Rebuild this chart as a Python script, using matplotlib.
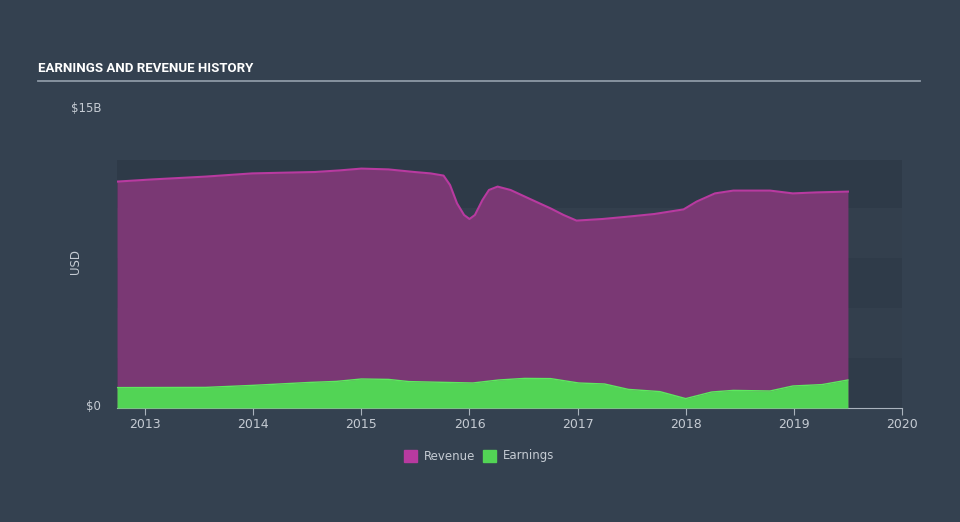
import matplotlib.pyplot as plt
from matplotlib.patches import Rectangle

# revenue history (USD billions)
rev_t = [2012.74, 2013.07, 2013.56, 2013.99, 2014.57, 2014.8, 2015.0, 2015.25, 2015.49,
         2015.64, 2015.76, 2015.82, 2015.885, 2015.95, 2016.0, 2016.05, 2016.12, 2016.18,
         2016.26, 2016.38, 2016.56, 2016.75, 2016.87, 2016.99, 2017.23, 2017.47, 2017.71,
         2017.98, 2018.1, 2018.27, 2018.44, 2018.78, 2018.99, 2019.21, 2019.5]
rev_v = [11.32, 11.43, 11.57, 11.73, 11.8, 11.88, 11.97, 11.93, 11.8,
         11.73, 11.62, 11.15, 10.23, 9.65, 9.45, 9.65, 10.4, 10.9,
         11.07, 10.9, 10.45, 9.98, 9.65, 9.37, 9.45, 9.57, 9.7,
         9.93, 10.32, 10.73, 10.87, 10.87, 10.73, 10.78, 10.82]

# earnings history (USD billions)
earn_t = [2012.74, 2013.56, 2013.99, 2014.53, 2014.77, 2015.0, 2015.25, 2015.44, 2016.03,
          2016.27, 2016.51, 2016.75, 2017.01, 2017.25, 2017.47, 2017.76, 2018.0, 2018.24,
          2018.44, 2018.78, 2018.99, 2019.26, 2019.5]
earn_v = [1.02, 1.03, 1.13, 1.28, 1.33, 1.45, 1.43, 1.32, 1.25,
          1.4, 1.48, 1.47, 1.25, 1.2, 0.93, 0.82, 0.47, 0.8,
          0.88, 0.85, 1.1, 1.17, 1.4]

years = list(range(2013, 2021))
series_names = ["Revenue", "Earnings"]

bg = "#344150"
rev_fill = "#7a3874"
rev_line = "#b83aa0"
earn_col = "#52d455"
txt = "#c5cbd3"

fig = plt.figure(figsize=(9.6, 5.22), dpi=100, facecolor=bg)
ax = fig.add_axes([117 / 960, 1 - 408 / 522, 785 / 960, 300 / 522])
ax.set_facecolor(bg)
ax.set_xlim(2012.74, 2020)
ax.set_ylim(0, 15)

# background bands
shades = ["#2f3b49", "#333f4d", "#2f3b49", "#333f4d", "#2e3a48"]
edges = [0, 2.5, 5, 7.5, 10, 12.4]
for i in range(5):
    ax.axhspan(edges[i], edges[i + 1], color=shades[i], lw=0, zorder=0)

ax.fill_between(rev_t, 0, rev_v, color=rev_fill, lw=0, zorder=2)
ax.plot(rev_t, rev_v, color=rev_line, lw=1.5, zorder=3)
ax.fill_between(earn_t, 0, earn_v, color=earn_col, lw=0, zorder=4)
ax.plot(earn_t, earn_v, color="#5ee85f", lw=1, zorder=5)

for s in ["top", "right", "left"]:
    ax.spines[s].set_visible(False)
ax.spines["bottom"].set_color("#aab3bd")
ax.set_xticks(years)
ax.set_xticklabels([str(y) for y in years])
ax.tick_params(axis="x", colors="#aab3bd", labelcolor=txt, labelsize=9, length=5, pad=2)
ax.set_yticks([])

fig.text(101 / 960, 1 - 108 / 522, "$15B", color=txt, fontsize=8.5, ha="right", va="center")
fig.text(101 / 960, 1 - 406 / 522, "$0", color=txt, fontsize=8.5, ha="right", va="center")
fig.text(76 / 960, 1 - 262 / 522, "USD", color=txt, fontsize=8.5, rotation=90,
         ha="center", va="center")

# title with underline
fig.text(38 / 960, 1 - 68 / 522, "EARNINGS AND REVENUE HISTORY", color="white",
         fontsize=9.5, fontweight="bold", family=["Roboto", "DejaVu Sans"],
         ha="left", va="center")
fig.add_artist(plt.Line2D([38 / 960, 920 / 960], [1 - 81 / 522, 1 - 81 / 522],
                          color="#8d99a6", lw=1.3))

# legend
for name, col, x0 in zip(series_names, [rev_line, earn_col], [404, 483]):
    fig.add_artist(Rectangle((x0 / 960, 1 - 462 / 522), 13 / 960, 12 / 522,
                             transform=fig.transFigure, color=col))
    fig.text((x0 + 20) / 960, 1 - 456 / 522, name, color=txt, fontsize=8.5,
             ha="left", va="center")

fig.savefig("out.png", dpi=100, facecolor=bg)
